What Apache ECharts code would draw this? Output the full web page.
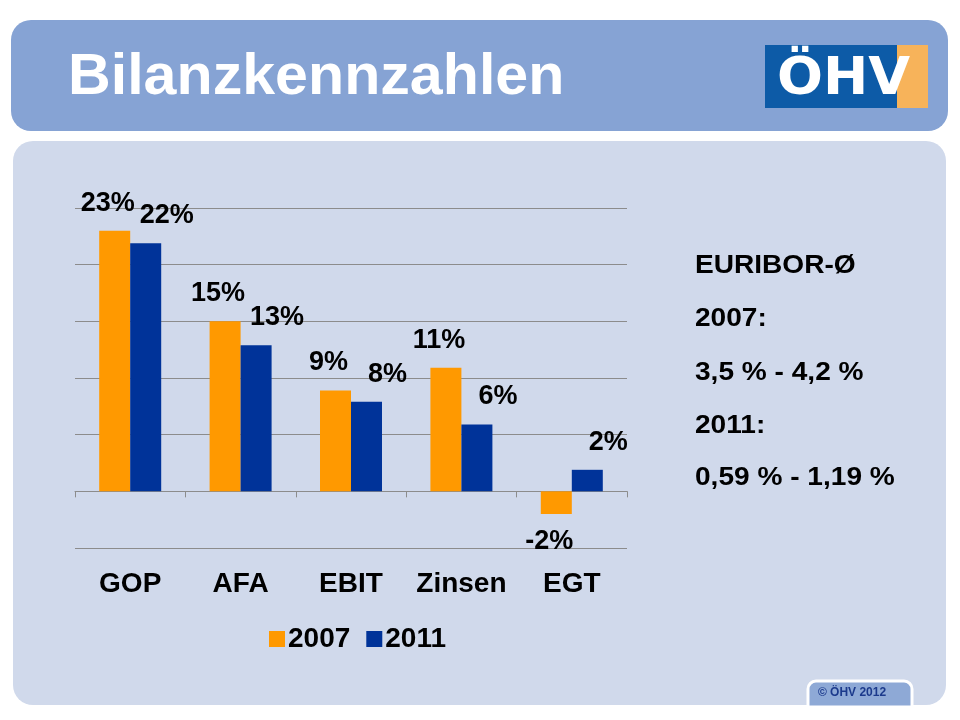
<!DOCTYPE html>
<html>
<head>
<meta charset="utf-8">
<script src="https://cdn.jsdelivr.net/npm/echarts@6/dist/echarts.min.js"></script>
<style>
html,body{margin:0;padding:0;background:#fff;}
#c{width:960px;height:720px;}
</style>
</head>
<body>
<div id="c"></div>
<script>
const categories = ['GOP', 'AFA', 'EBIT', 'Zinsen', 'EGT'];
const values2007 = [23.0, 15.0, 8.9, 10.9, -2.0];
const values2011 = [21.9, 12.9, 7.9, 5.9, 1.9];
const seriesNames = ['2007', '2011'];
const yTicks = [-5, 0, 5, 10, 15, 20, 25];
const titleText = 'Bilanzkennzahlen';
const euriborLines = ['EURIBOR-Ø', '2007:', '3,5 % - 4,2 %', '2011:', '0,59 % - 1,19 %'];
const footerText = '© ÖHV 2012';
const logoText = 'ÖHV';

const FONT = 'Liberation Sans, Arial, sans-serif';
const chart = echarts.init(document.getElementById('c'));

const fmt = p => Math.round(p.value) + '%';

const graphics = [
  { type: 'rect', z: -100, shape: { x: 11, y: 20, width: 937, height: 111, r: 20 }, style: { fill: '#86A3D4' } },
  { type: 'rect', z: -100, shape: { x: 13, y: 141, width: 933, height: 564, r: 20 }, style: { fill: '#D0D9EB' } },
  { type: 'text', z: 10, x: 68, y: 78, scaleX: 1.02, style: { text: titleText, fill: '#ffffff', fontSize: 58, fontWeight: 'bold', fontFamily: FONT, verticalAlign: 'middle', align: 'left' } },
  { type: 'rect', z: 5, shape: { x: 765, y: 45, width: 132, height: 63 }, style: { fill: '#0D5BA7' } },
  { type: 'rect', z: 5, shape: { x: 897, y: 45, width: 31, height: 63 }, style: { fill: '#F7B35A' } },
  { type: 'text', z: 6, x: 777, y: 80, scaleX: 1.04, style: { text: logoText, fill: '#ffffff', fontSize: 52, fontWeight: 900, fontFamily: 'DejaVu Sans, sans-serif', verticalAlign: 'middle', align: 'left' } },
  { type: 'rect', z: 5, shape: { x: 808, y: 681, width: 104, height: 26, r: [8, 8, 0, 0] }, style: { fill: '#8EA9D6', stroke: '#ffffff', lineWidth: 3 } },
  { type: 'text', z: 6, x: 852, y: 693, style: { text: footerText, fill: '#1C3A8C', fontSize: 12, fontWeight: 'bold', fontFamily: FONT, verticalAlign: 'middle', align: 'center' } }
];
const lineYs = [266, 319, 373, 426, 478];
euriborLines.forEach((t, i) => {
  graphics.push({ type: 'text', z: 10, x: 695, y: lineYs[i], scaleX: 1.08, style: { text: t, fill: '#000000', fontSize: 26, fontWeight: 'bold', fontFamily: FONT, verticalAlign: 'middle', align: 'left' } });
});

chart.setOption({
  animation: false,
  textStyle: { fontFamily: FONT },
  graphic: graphics,
  grid: { left: 75, right: 333, top: 208, bottom: 172, containLabel: false },
  legend: {
    data: seriesNames,
    left: 264, top: 620,
    icon: 'rect', itemWidth: 16, itemHeight: 16, itemGap: 16,
    textStyle: { fontSize: 28, fontWeight: 'bold', color: '#000', fontFamily: FONT, padding: [0, 0, 0, -2] }
  },
  xAxis: [
    {
      type: 'category', data: categories, position: 'bottom',
      axisLine: { show: false, onZero: false }, axisTick: { show: false },
      axisLabel: { fontSize: 28, fontWeight: 'bold', color: '#000', margin: 22, fontFamily: FONT, interval: 0 }
    },
    {
      type: 'category', data: categories, position: 'bottom',
      axisLine: { show: true, onZero: true, lineStyle: { color: '#8C8C8C', width: 1 } },
      axisTick: { show: true, length: 6, lineStyle: { color: '#8C8C8C' } },
      axisLabel: { show: false }
    }
  ],
  yAxis: {
    type: 'value', min: yTicks[0], max: yTicks[yTicks.length - 1], interval: yTicks[1] - yTicks[0],
    axisLine: { show: false }, axisTick: { show: false }, axisLabel: { show: false },
    splitLine: { show: true, lineStyle: { color: '#8C8C8C', width: 1 } }
  },
  series: [
    {
      name: seriesNames[0], type: 'bar', xAxisIndex: 0, data: values2007,
      barWidth: 31, barGap: '0%',
      itemStyle: { color: '#FF9900' },
      label: { show: true, position: 'outside', distance: 14, offset: [-7, 0], formatter: fmt, fontSize: 27, fontWeight: 'bold', color: '#000', fontFamily: FONT }
    },
    {
      name: seriesNames[1], type: 'bar', xAxisIndex: 0, data: values2011,
      barWidth: 31, barGap: '0%',
      itemStyle: { color: '#003399' },
      label: { show: true, position: 'outside', distance: 14, offset: [21, 0], formatter: fmt, fontSize: 27, fontWeight: 'bold', color: '#000', fontFamily: FONT }
    }
  ]
});
</script>
</body>
</html>
